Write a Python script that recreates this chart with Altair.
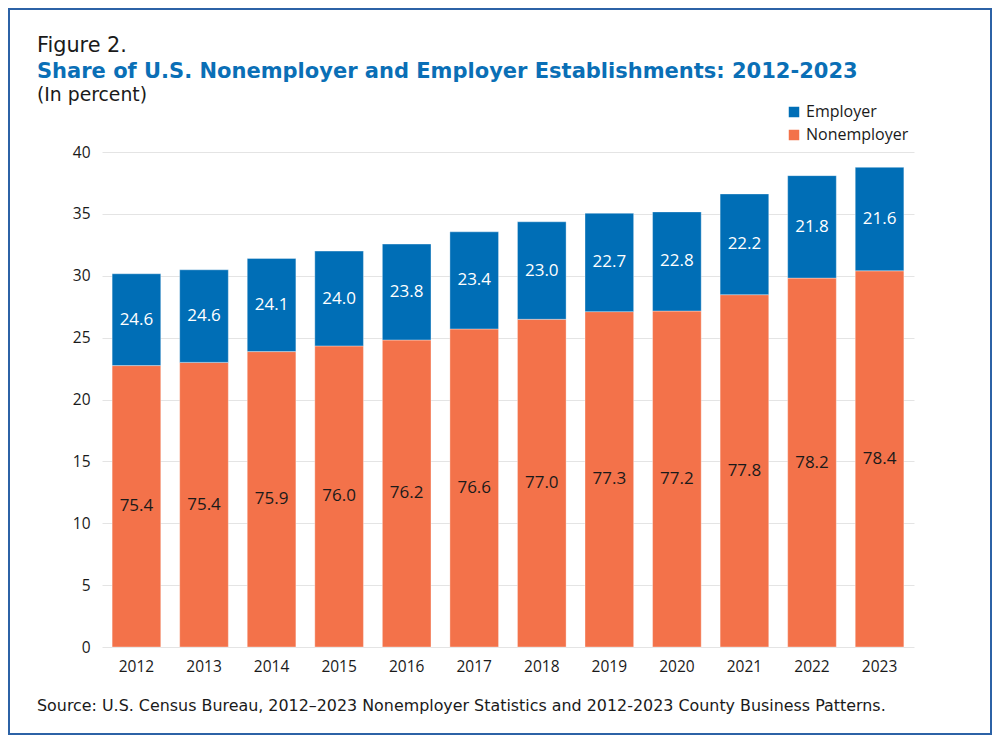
import altair as alt
import pandas as pd

years = [str(y) for y in range(2012, 2024)]
# bar heights as drawn (millions of establishments)
nonemployer = [22.74, 23.00, 23.87, 24.33, 24.81, 25.70, 26.48, 27.10, 27.15, 28.47, 29.81, 30.40]
employer = [7.42, 7.48, 7.53, 7.66, 7.75, 7.85, 7.88, 7.95, 8.01, 8.14, 8.28, 8.36]
# labels (percent shares)
nonemployer_pct = [75.4, 75.4, 75.9, 76.0, 76.2, 76.6, 77.0, 77.3, 77.2, 77.8, 78.2, 78.4]
employer_pct = [24.6, 24.6, 24.1, 24.0, 23.8, 23.4, 23.0, 22.7, 22.8, 22.2, 21.8, 21.6]

series_names = ["Employer", "Nonemployer"]
colors = ["#006EB6", "#F3724A"]

rows = []
for i, y in enumerate(years):
    rows.append({"year": y, "series": "Nonemployer", "value": nonemployer[i], "pct": nonemployer_pct[i], "ord": 0})
    rows.append({"year": y, "series": "Employer", "value": employer[i], "pct": employer_pct[i], "ord": 1})
df = pd.DataFrame(rows)

FONT = "Open Sans"
HFONT = "DejaVu Sans"
W, H = 812, 495

xenc = alt.X("year:N", title=None, sort=years,
             scale=alt.Scale(paddingInner=0.28, paddingOuter=0.15),
             axis=alt.Axis(labelAngle=0, ticks=False, domain=False, labelFontSize=15.5,
                           labelColor="#1a1a1a", labelPadding=12, labelFont=FONT))

bars = alt.Chart(df).mark_bar(stroke="white", strokeWidth=1, strokeOpacity=0.35).encode(
    x=xenc,
    y=alt.Y("value:Q", stack="zero", title=None,
            scale=alt.Scale(domain=[0, 40], nice=False),
            axis=alt.Axis(values=[0, 5, 10, 15, 20, 25, 30, 35, 40], ticks=False, domain=False,
                          labelFontSize=15.5, labelColor="#1a1a1a", labelPadding=12,
                          gridColor="#e4e4e4", gridWidth=1, labelFont=FONT)),
    color=alt.Color("series:N", scale=alt.Scale(domain=series_names, range=colors),
                    legend=alt.Legend(title=None, orient="none", legendX=684, legendY=-48,
                                      symbolType="square", symbolSize=110, symbolStrokeWidth=0,
                                      labelFontSize=16, labelFont=FONT, labelColor="#1a1a1a",
                                      rowPadding=7, padding=0, labelOffset=4)),
    order=alt.Order("ord:Q"),
)

labels = alt.Chart(df).transform_stack(
    stack="value", groupby=["year"], sort=[alt.SortField("ord")], as_=["y0", "y1"]
).transform_calculate(
    mid="(datum.y0 + datum.y1) / 2",
    lab="format(datum.pct, '.1f')",
).mark_text(fontSize=17, font=FONT, baseline="middle").encode(
    x=alt.X("year:N", sort=years),
    y=alt.Y("mid:Q"),
    text="lab:N",
    color=alt.condition("datum.series == 'Employer'", alt.value("#ffffff"), alt.value("#1a1a1a")),
)

dummy = pd.DataFrame({"t": ["Figure 2."]})
fig_lbl = alt.Chart(pd.DataFrame({"t": ["Figure 2."]})).mark_text(
    align="left", baseline="alphabetic", fontSize=20.8, font=HFONT, color="#1a1a1a"
).encode(text="t:N", x=alt.value(-65), y=alt.value(-100.5))
title = alt.Chart(pd.DataFrame({"t": ["Share of U.S. Nonemployer and Employer Establishments: 2012-2023"]})).mark_text(
    align="left", baseline="alphabetic", fontSize=21, font=HFONT, fontWeight="bold", color="#0a6fb6"
).encode(text="t:N", x=alt.value(-65), y=alt.value(-74))
unit = alt.Chart(pd.DataFrame({"t": ["(In percent)"]})).mark_text(
    align="left", baseline="alphabetic", fontSize=18.8, font=HFONT, color="#1a1a1a"
).encode(text="t:N", x=alt.value(-65), y=alt.value(-51))
source = alt.Chart(pd.DataFrame({"t": ["Source: U.S. Census Bureau, 2012\u20132023 Nonemployer Statistics and 2012-2023 County Business Patterns."]})).mark_text(
    align="left", baseline="alphabetic", fontSize=15.9, font=HFONT, color="#1a1a1a"
).encode(text="t:N", x=alt.value(-65), y=alt.value(559))
border = alt.Chart(dummy).mark_rect(fill="white", fillOpacity=0, stroke="#2c62a6", strokeWidth=2).encode(
    x=alt.value(-93), x2=alt.value(889), y=alt.value(-143), y2=alt.value(582)
)

chart = alt.layer(border, bars, labels, fig_lbl, title, unit, source).properties(
    width=W, height=H, padding=0, background="white"
).configure_view(stroke=None)

chart.save("out.html", embed_options={"renderer": "svg", "actions": False})
